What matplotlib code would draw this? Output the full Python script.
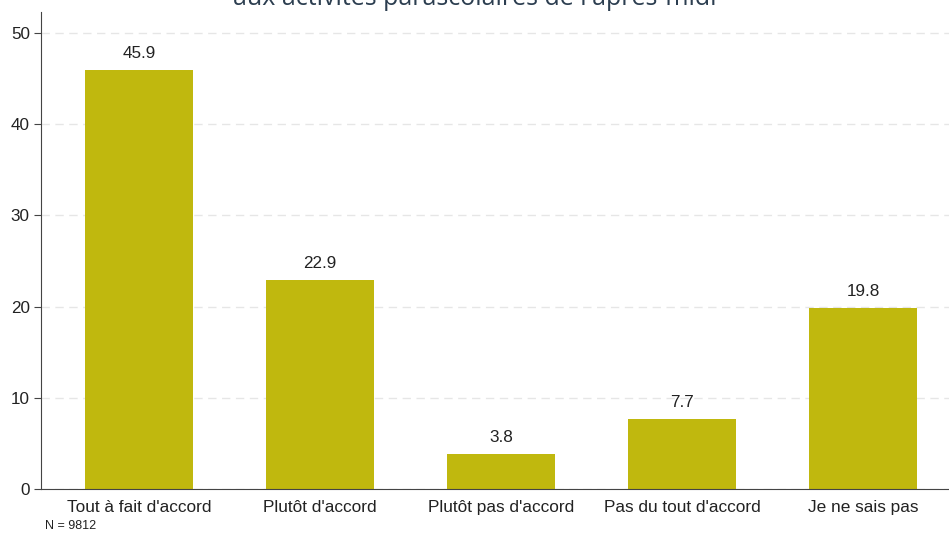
import numpy as np
import matplotlib
matplotlib.use('Agg')
import matplotlib.pyplot as plt

categories = ["Tout à fait d'accord", "Plutôt d'accord", "Plutôt pas d'accord",
              "Pas du tout d'accord", "Je ne sais pas"]
values = [45.9, 22.9, 3.8, 7.7, 19.8]
yticks = [0, 10, 20, 30, 40, 50]
title = "aux activités parascolaires de l'après-midi"
note = "N = 9812"

plt.rcParams['font.family'] = ['Liberation Sans', 'DejaVu Sans']

fig = plt.figure(figsize=(9.49, 5.33), dpi=100)
ax = fig.add_axes([41/949, 44/533, 1 - 41/949, (489 - 12)/533])

x = np.arange(len(categories))
ax.bar(x, values, width=0.6, color='#c0b80e', zorder=2)
for xi, v in zip(x, values):
    ax.text(xi, v + 1.0, f'{v:.1f}', ha='center', va='bottom', fontsize=12.3, color='#222222')

ax.set_xlim(-0.541, 4.475)
ax.set_ylim(0, 52.3)
ax.set_yticks(yticks)
ax.set_xticks(x)
ax.set_xticklabels(categories, fontsize=12.4, color='#222222')
ax.tick_params(axis='y', labelsize=12.3, length=5, color='#444444', labelcolor='#222222', pad=3)
ax.tick_params(axis='x', length=0, pad=8)
ax.yaxis.grid(True, color='#e6e6e6', linestyle=(0, (6, 4)), linewidth=1, zorder=0)
ax.spines['top'].set_visible(False)
ax.spines['right'].set_visible(False)
ax.spines['left'].set_color('#444444')
ax.spines['bottom'].set_color('#444444')

fig.text(45/949, 1 - 529/533, note, fontsize=9, color='#222222', ha='left', va='baseline')
fig.text(0.5, 1 - 5/533, title, fontsize=18, family='Open Sans', color='#2c3e50',
         ha='center', va='baseline')

fig.savefig('out.png', dpi=100)
